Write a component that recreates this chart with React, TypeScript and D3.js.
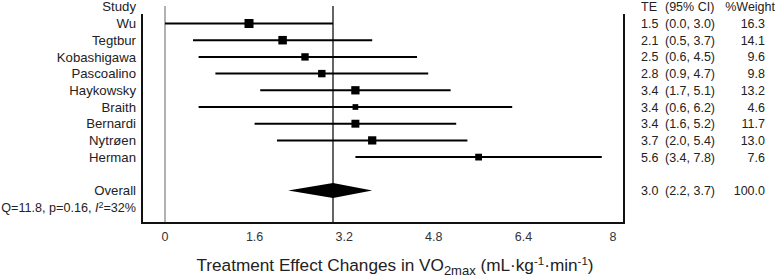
import React from 'react';
import * as d3 from 'd3';

const studies = ['Wu', 'Tegtbur', 'Kobashigawa', 'Pascoalino', 'Haykowsky', 'Braith', 'Bernardi', 'Nytrøen', 'Herman'];
const te = [1.5, 2.1, 2.5, 2.8, 3.4, 3.4, 3.4, 3.7, 5.6];
const lo = [0.0, 0.5, 0.6, 0.9, 1.7, 0.6, 1.6, 2.0, 3.4];
const hi = [3.0, 3.7, 4.5, 4.7, 5.1, 6.2, 5.2, 5.4, 7.8];
const weights = [16.3, 14.1, 9.6, 9.8, 13.2, 4.6, 11.7, 13.0, 7.6];
const overallTE = 3.0;
const overallLo = 2.2;
const overallHi = 3.7;
const overallWeight = 100.0;
const ticks = [0, 1.6, 3.2, 4.8, 6.4, 8];

const FONT = 'Liberation Sans, Arial, sans-serif';

export default function App() {
  const x = d3.scaleLinear().domain([0, 8]).range([165, 613]);
  const y = d3.scaleLinear().domain([0, 1]).range([23.5, 40.2]);
  const size = d3.scaleSqrt().domain([4.6, 16.3]).range([5.7, 9]);
  const f1 = d3.format('.1f');
  const left = 142, right = 624, top = 14, bottom = 223;
  const fs = 12.5;
  const fsL = 13.2;
  const txtCol = '#222';

  const overallY = y(10);
  const diamond = [
    [x(overallLo), overallY],
    [x(overallTE), overallY - 7.5],
    [x(overallHi), overallY],
    [x(overallTE), overallY + 7.5],
  ];

  return (
    <svg width={776} height={276} style={{ position: 'absolute', left: 0, top: 0, background: '#fff' }} fontFamily={FONT}>
      {/* reference lines */}
      <line x1={x(0)} x2={x(0)} y1={6} y2={bottom} stroke="#888" strokeWidth={1.3} />
      <line x1={x(overallTE)} x2={x(overallTE)} y1={6} y2={bottom} stroke="#111" strokeWidth={1.3} />
      {/* frame */}
      <line x1={left} x2={left} y1={top} y2={bottom + 1} stroke="#111" strokeWidth={2} />
      <line x1={right} x2={right} y1={top} y2={bottom + 1} stroke="#111" strokeWidth={2} />
      <line x1={left} x2={right} y1={bottom} y2={bottom} stroke="#111" strokeWidth={2} />

      {/* headers */}
      <text x={136} y={y(-1) + 4.5} textAnchor="end" fontSize={fsL} fill={txtCol}>Study</text>
      <text x={641} y={y(-1) + 4.5} fontSize={fs} fill={txtCol}>TE</text>
      <text x={665} y={y(-1) + 4.5} fontSize={fs} fill={txtCol}>(95% CI)</text>
      <text x={775} y={y(-1) + 4.5} textAnchor="end" fontSize={fs} fill={txtCol}>%Weight</text>

      {studies.map((s, i) => {
        const cy = y(i);
        const sz = size(weights[i]);
        return (
          <g key={s}>
            <text x={136} y={cy + 4.7} textAnchor="end" fontSize={fsL} fill={txtCol}>{s}</text>
            <line x1={x(lo[i])} x2={x(hi[i])} y1={cy} y2={cy} stroke="#000" strokeWidth={2} />
            <rect x={x(te[i]) - sz / 2} y={cy - sz / 2} width={sz} height={sz} fill="#000" />
            <text x={641} y={cy + 4.5} fontSize={fs} fill={txtCol}>{f1(te[i])}</text>
            <text x={665} y={cy + 4.5} fontSize={fs} fill={txtCol}>{`(${f1(lo[i])}, ${f1(hi[i])})`}</text>
            <text x={765} y={cy + 4.5} textAnchor="end" fontSize={fs} fill={txtCol}>{f1(weights[i])}</text>
          </g>
        );
      })}

      {/* overall */}
      <text x={136} y={overallY + 4.7} textAnchor="end" fontSize={fsL} fill={txtCol}>Overall</text>
      <path d={d3.line()(diamond as [number, number][]) + 'Z'} fill="#000" />
      <text x={641} y={overallY + 4.5} fontSize={fs} fill={txtCol}>{f1(overallTE)}</text>
      <text x={665} y={overallY + 4.5} fontSize={fs} fill={txtCol}>{`(${f1(overallLo)}, ${f1(overallHi)})`}</text>
      <text x={765} y={overallY + 4.5} textAnchor="end" fontSize={fs} fill={txtCol}>{f1(overallWeight)}</text>

      <text x={136} y={y(11) + 4.7} textAnchor="end" fontSize={12.6} fill={txtCol}>
        Q=11.8, p=0.16, <tspan fontStyle="italic">I</tspan>
        <tspan fontSize={9} dy={-4}>2</tspan>
        <tspan dy={4}>=32%</tspan>
      </text>

      {/* tick labels */}
      {ticks.map((t) => (
        <text key={t} x={x(t)} y={241} textAnchor="middle" fontSize={fs} fill="#333">{String(t)}</text>
      ))}

      {/* axis title */}
      <text x={395} y={270.5} textAnchor="middle" fontSize={17.2} fill={txtCol}>
        Treatment Effect Changes in VO
        <tspan fontSize={13} dy={4}>2max</tspan>
        <tspan dy={-4}> (mL·kg</tspan>
        <tspan fontSize={11.5} dy={-6}>-1</tspan>
        <tspan dy={6}>·min</tspan>
        <tspan fontSize={11.5} dy={-6}>-1</tspan>
        <tspan dy={6}>)</tspan>
      </text>
    </svg>
  );
}
